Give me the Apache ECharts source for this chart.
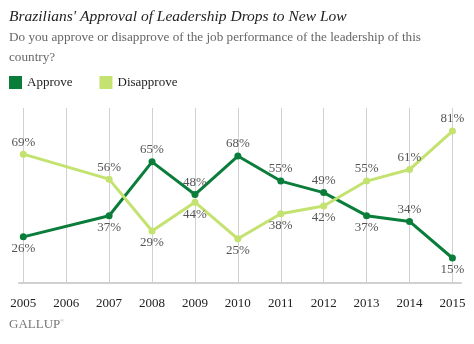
<!DOCTYPE html>
<html><head><meta charset="utf-8">
<script src="https://cdn.jsdelivr.net/npm/echarts@6/dist/echarts.min.js"></script>
<style>html,body{margin:0;padding:0;background:#fff}#c{width:474px;height:344px}</style>
</head><body><div id="c"></div>
<script>
const years = [2005, 2006, 2007, 2008, 2009, 2010, 2011, 2012, 2013, 2014, 2015];
const approve = [26, null, 37, 65, 48, 68, 55, 49, 37, 34, 15];
const disapprove = [69, null, 56, 29, 44, 25, 38, 42, 55, 61, 81];
const approvePos = ['bottom', null, 'bottom', 'top', 'top', 'top', 'top', 'top', 'bottom', 'top', 'bottom'];
const disapprovePos = ['top', null, 'top', 'bottom', 'bottom', 'bottom', 'bottom', 'bottom', 'top', 'top', 'top'];
const SERIF = '"Liberation Serif", "DejaVu Serif", serif';
const C_APP = '#0b7d3a', C_DIS = '#c3e26f';

function build(vals, pos) {
  return vals.map((v, i) => v == null ? null : {
    value: [years[i], v],
    label: { position: pos[i] }
  }).filter(d => d);
}

const chart = echarts.init(document.getElementById('c'));
chart.setOption({
  animation: false,
  title: [
    { text: "Brazilians' Approval of Leadership Drops to New Low", left: 9, top: 9, padding: 0,
      textStyle: { fontFamily: SERIF, fontStyle: 'italic', fontWeight: 'normal', fontSize: 15.5, color: '#222' } },
    { text: 'Do you approve or disapprove of the job performance of the leadership of this\ncountry?', left: 9, top: 28, padding: 0,
      textStyle: { fontFamily: SERIF, fontWeight: 'normal', fontSize: 13.2, color: '#666', lineHeight: 20 } }
  ],
  legend: {
    left: 9, top: 76, padding: 0, itemWidth: 13, itemHeight: 13, itemGap: 27, icon: 'rect',
    textStyle: { fontFamily: SERIF, fontSize: 13, color: '#222' },
    data: [{ name: 'Approve', itemStyle: { color: C_APP } }, { name: 'Disapprove', itemStyle: { color: C_DIS } }]
  },
  grid: { left: 19, right: 13, top: 108, bottom: 61 },
  xAxis: {
    type: 'value', min: 2004.9, max: 2015.2,
    axisLine: { show: true, lineStyle: { color: '#d0d0d0', width: 2 } },
    axisTick: { show: false, customValues: years },
    axisLabel: { customValues: years, formatter: v => String(v), margin: 14, fontFamily: SERIF, fontSize: 13, color: '#222' },
    splitLine: { show: true, lineStyle: { color: '#d0d0d0', width: 1 } }
  },
  yAxis: { type: 'value', min: 2, max: 93, show: false, splitLine: { show: false } },
  series: [
    { name: 'Approve', type: 'line', data: build(approve, approvePos), color: C_APP,
      lineStyle: { width: 3, color: C_APP }, symbol: 'circle', symbolSize: 7, itemStyle: { color: C_APP },
      label: { show: true, formatter: p => p.value[1] + '%', fontFamily: SERIF, fontSize: 13, color: '#555', distance: 2 } },
    { name: 'Disapprove', type: 'line', data: build(disapprove, disapprovePos), color: C_DIS,
      lineStyle: { width: 3, color: C_DIS }, symbol: 'circle', symbolSize: 7, itemStyle: { color: C_DIS },
      label: { show: true, formatter: p => p.value[1] + '%', fontFamily: SERIF, fontSize: 13, color: '#555', distance: 2 } }
  ],
  graphic: [
    { type: 'text', left: 9, top: 318, style: {
      text: '{a|GALLUP}{b|®}', font: '13px ' + SERIF, fill: '#777',
      rich: { a: { fontFamily: SERIF, fontSize: 13, fill: '#777', color: '#777' }, b: { fontFamily: SERIF, fontSize: 5, verticalAlign: 'top', color: '#999', fill: '#999' } } } }
  ]
});
</script></body></html>
